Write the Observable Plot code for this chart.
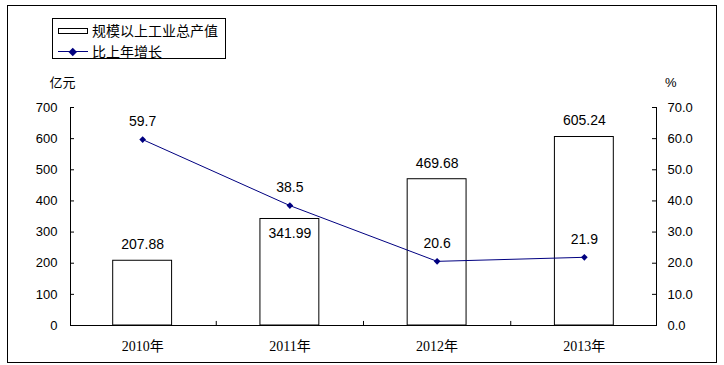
<!DOCTYPE html>
<html><head><meta charset="utf-8">
<script src="https://cdn.jsdelivr.net/npm/d3@7"></script>
<script src="https://cdn.jsdelivr.net/npm/@observablehq/plot@0.6"></script>
<style>
body{margin:0;background:#fff;}
#wrap{position:relative;width:724px;height:365px;background:#fff;}
#border{position:absolute;left:7px;top:5px;width:708px;height:356px;border:1px solid #000;pointer-events:none;}
#legend{position:absolute;left:52px;top:18px;width:172px;height:39px;border:1px solid #000;background:#fff;font:14px "Noto Sans CJK SC",sans-serif;color:#000;}
#legend .sw{position:absolute;left:5px;top:9px;width:28px;height:4px;border:1px solid #000;background:#fff;}
#legend .ln{position:absolute;left:5px;top:32px;width:30px;height:1px;background:#000080;}
#legend .dm{position:absolute;left:17px;top:29.5px;width:5.5px;height:5.5px;background:#000080;transform:rotate(45deg);}
#legend .t{position:absolute;left:39px;line-height:16px;white-space:nowrap;}
</style>
</head><body>
<div id="wrap">
  <div id="chart"></div>
  <div id="border"></div>
  <div id="legend">
    <div class="sw"></div><span class="t" id="l1" style="top:3px"></span>
    <div class="ln"></div><div class="dm"></div><span class="t" id="l2" style="top:24px"></span>
  </div>
</div>
<script>
const years = ["2010", "2011", "2012", "2013"];
const output = [207.88, 341.99, 469.68, 605.24];   // 亿元
const growth = [59.7, 38.5, 20.6, 21.9];           // %
const leftTicks = [0, 100, 200, 300, 400, 500, 600, 700];
const rightTicks = [0, 10, 20, 30, 40, 50, 60, 70];
const seriesNames = ["规模以上工业总产值", "比上年增长"];
const leftUnit = "亿元";
const rightUnit = "%";
const yearSuffix = "年";

const ratio = 700 / 70;
const data = years.map((y, i) => ({year: y, output: output[i], growth: growth[i]}));
const insideLabel = new Set(["2011"]);

document.getElementById("l1").textContent = seriesNames[0];
document.getElementById("l2").textContent = seriesNames[1];

const W = 724, H = 365, mL = 70, mR = 68, mT = 107, mB = 40;
const pIn = 0.6, pOut = 0.29;
const innerW = W - mL - mR;
const step = innerW / (years.length - pIn + 2 * pOut);
const tickLen = 4;
const font = "'Liberation Sans', Arial, sans-serif";
const navy = "#000080";

const chart = Plot.plot({
  width: W, height: H,
  marginTop: mT, marginBottom: mB, marginLeft: mL, marginRight: mR,
  style: {fontFamily: font, fontSize: "13px", color: "#000", background: "#fff"},
  x: {domain: years, paddingInner: pIn, paddingOuter: pOut, round: false},
  y: {domain: [0, 700]},
  marks: [
    Plot.barY(data, {x: "year", y: "output", fill: "white", stroke: "black", strokeWidth: 1}),
    Plot.frame({anchor: "left", stroke: "black"}),
    Plot.frame({anchor: "right", stroke: "black"}),
    Plot.ruleY([0], {stroke: "black"}),
    // inward tick marks
    Plot.tickY(leftTicks, {y: d => d, insetRight: innerW - tickLen, stroke: "black"}),
    Plot.tickY(rightTicks.map(d => d * ratio), {y: d => d, insetLeft: innerW - tickLen, stroke: "black"}),
    Plot.ruleX(years.slice(0, -1), {x: d => d, y1: 0, y2: 13, dx: step / 2, stroke: "black"}),
    Plot.axisY(leftTicks, {anchor: "left", tickSize: 0, tickPadding: 13, tickFormat: d => String(d), fontSize: 13, label: null}),
    Plot.axisY(rightTicks.map(d => d * ratio), {anchor: "right", tickSize: 0, tickPadding: 11, tickFormat: d => (d / ratio).toFixed(1), fontSize: 13, label: null}),
    Plot.axisX({tickSize: 0, tickPadding: 16, tickFormat: d => d + yearSuffix, fontFamily: "'Liberation Serif', 'Noto Sans CJK SC', serif", fontSize: 14, label: null}),
    Plot.text([leftUnit], {frameAnchor: "top-left", lineAnchor: "middle", text: d => d, dx: -21, dy: -25, fontFamily: "'Noto Sans CJK SC', sans-serif", fontSize: 13}),
    Plot.text([rightUnit], {frameAnchor: "top-right", lineAnchor: "middle", text: d => d, dx: 20, dy: -25, fontSize: 13}),
    Plot.line(data, {x: "year", y: d => d.growth * ratio, stroke: navy, strokeWidth: 1}),
    Plot.dot(data, {x: "year", y: d => d.growth * ratio, symbol: "diamond2", r: 3, fill: navy, stroke: null}),
    Plot.text(data, {x: "year", y: d => d.growth * ratio, text: d => d.growth.toFixed(1), dy: -18, fontSize: 14}),
    Plot.text(data.filter(d => !insideLabel.has(d.year)), {x: "year", y: "output", text: d => d.output.toFixed(2), dy: -16, fontSize: 14}),
    Plot.text(data.filter(d => insideLabel.has(d.year)), {x: "year", y: "output", text: d => d.output.toFixed(2), dy: 15, fontSize: 14})
  ]
});
document.getElementById("chart").appendChild(chart);
</script>
</body></html>
